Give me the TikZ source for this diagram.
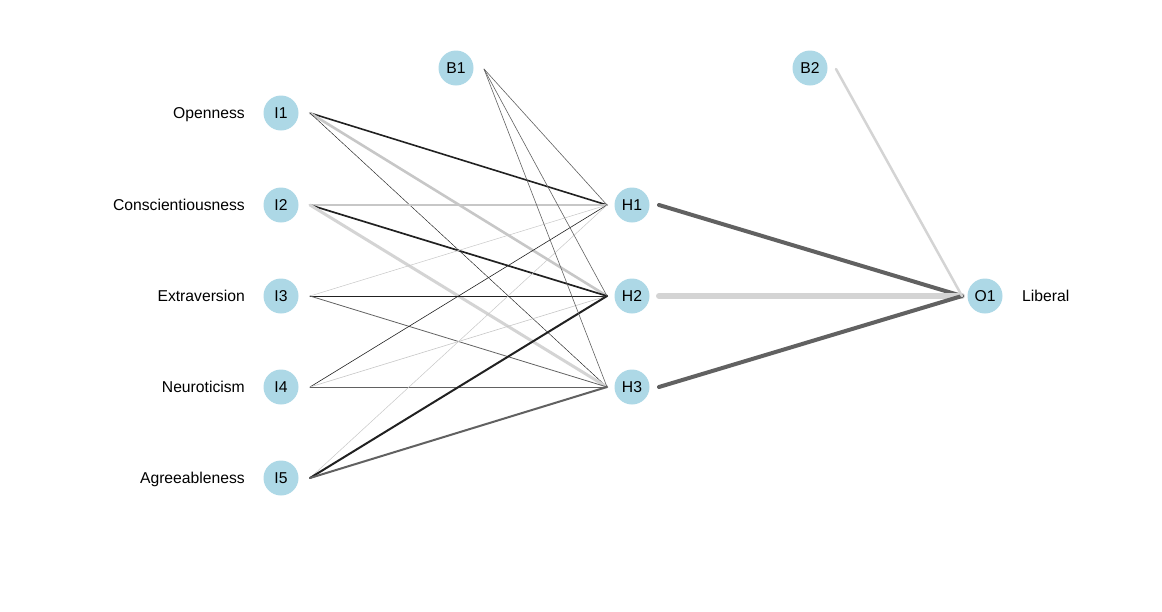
\documentclass[tikz,border=0pt]{standalone}
\usepackage{fontspec}
\setmainfont{Liberation Sans}
\begin{document}
\begin{tikzpicture}[x=1pt,y=-1pt,
  neuron/.style={circle,fill=nodeblue,draw=none,minimum size=35pt,inner sep=0pt,font=\fontsize{15.7}{15.7}\selectfont},
  lbl/.style={font=\fontsize{15.7}{15.7}\selectfont,inner sep=0pt},
  edge/.style={line cap=round},
  dk/.style={edge,draw=black!87},
  lt/.style={edge,draw=black!22},
  lt2/.style={edge,draw=black!17},
  mg/.style={edge,draw=black!62}]
\definecolor{nodeblue}{HTML}{ADD8E6}
\useasboundingbox (0,0) rectangle (1162,611);
% nodes
\node[neuron] (I1) at (281,113) {I1};
\node[neuron] (I2) at (281,205) {I2};
\node[neuron] (I3) at (281,296) {I3};
\node[neuron] (I4) at (281,387) {I4};
\node[neuron] (I5) at (281,478) {I5};
\node[neuron] (B1) at (456,68) {B1};
\node[neuron] (H1) at (632,205) {H1};
\node[neuron] (H2) at (632,296) {H2};
\node[neuron] (H3) at (632,387) {H3};
\node[neuron] (B2) at (810,68) {B2};
\node[neuron] (O1) at (985,296) {O1};
% labels
\node[lbl,anchor=base east] (L1) at (245,118.5) {Openness};
\node[lbl,anchor=base east] (L2) at (245,210.5) {Conscientiousness};
\node[lbl,anchor=base east] (L3) at (245,301.5) {Extraversion};
\node[lbl,anchor=base east] (L4) at (245,392.5) {Neuroticism};
\node[lbl,anchor=base east] (L5) at (245,483.5) {Agreeableness};
\node[lbl,anchor=base west] (LO) at (1022,301.5) {Liberal};
% input -> hidden
\draw[dk,line width=1.6pt] ([xshift=29pt]I1.center) -- ([xshift=-25pt]H1.center);
\draw[lt,line width=2.6pt] ([xshift=29pt]I1.center) -- ([xshift=-25pt]H2.center);
\draw[dk,line width=0.45pt] ([xshift=29pt]I1.center) -- ([xshift=-25pt]H3.center);
\draw[lt,line width=2.6pt] ([xshift=29pt]I2.center) -- ([xshift=-25pt]H1.center);
\draw[dk,line width=1.7pt] ([xshift=29pt]I2.center) -- ([xshift=-25pt]H2.center);
\draw[lt2,line width=3pt] ([xshift=29pt]I2.center) -- ([xshift=-25pt]H3.center);
\draw[lt,line width=0.5pt] ([xshift=29pt]I3.center) -- ([xshift=-25pt]H1.center);
\draw[dk,line width=0.8pt] ([xshift=29pt]I3.center) -- ([xshift=-25pt]H2.center);
\draw[mg,line width=0.8pt] ([xshift=29pt]I3.center) -- ([xshift=-25pt]H3.center);
\draw[dk,line width=0.6pt] ([xshift=29pt]I4.center) -- ([xshift=-25pt]H1.center);
\draw[lt,line width=0.6pt] ([xshift=29pt]I4.center) -- ([xshift=-25pt]H2.center);
\draw[mg,line width=0.8pt] ([xshift=29pt]I4.center) -- ([xshift=-25pt]H3.center);
\draw[lt,line width=0.5pt] ([xshift=29pt]I5.center) -- ([xshift=-25pt]H1.center);
\draw[dk,line width=2pt] ([xshift=29pt]I5.center) -- ([xshift=-25pt]H2.center);
\draw[mg,line width=2pt] ([xshift=29pt]I5.center) -- ([xshift=-25pt]H3.center);
% bias 1
\draw[mg,line width=0.6pt] ([xshift=28pt,yshift=-1pt]B1.center) -- ([xshift=-25pt]H1.center);
\draw[mg,line width=0.6pt] ([xshift=28pt,yshift=-1pt]B1.center) -- ([xshift=-25pt]H2.center);
\draw[mg,line width=0.6pt] ([xshift=28pt,yshift=-1pt]B1.center) -- ([xshift=-25pt]H3.center);
% hidden -> output
\draw[edge,draw=black!62,line width=4pt] ([xshift=27pt]H1.center) -- ([xshift=-23pt]O1.center);
\draw[edge,draw=black!17,line width=6pt] ([xshift=27pt]H2.center) -- ([xshift=-23pt]O1.center);
\draw[edge,draw=black!62,line width=4pt] ([xshift=27pt]H3.center) -- ([xshift=-23pt]O1.center);
\draw[lt2,line width=2.5pt] ([xshift=26pt,yshift=-1pt]B2.center) -- ([xshift=-23pt]O1.center);
\end{tikzpicture}
\end{document}
